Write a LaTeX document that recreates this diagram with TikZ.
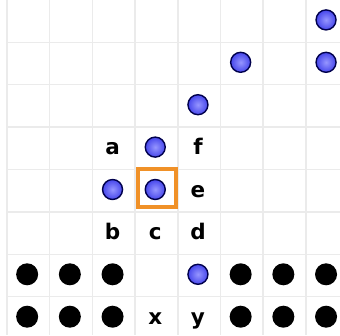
\documentclass[tikz,border=0pt]{standalone}
\usepackage{fontspec}
\setmainfont{DejaVu Sans}
\begin{document}
\begin{tikzpicture}[x=1pt,y=-1pt,
  gridline/.style={draw=black!8,line width=1.5pt},
  bluedot/.style={circle,inner sep=0pt,minimum size=20pt,draw=blue!30!black,line width=1.4pt,shading=radial,inner color={rgb,255:red,150;green,150;blue,255},outer color={rgb,255:red,70;green,70;blue,235}},
  blackdot/.style={circle,inner sep=0pt,minimum size=22pt,fill=black},
  lbl/.style={inner sep=0pt,anchor=base,font=\fontsize{21.5}{24}\selectfont\bfseries},
  hl/.style={draw={rgb,255:red,240;green,145;blue,40},line width=4pt,minimum width=38pt,minimum height=38pt,inner sep=0pt}]
\useasboundingbox (0,0) rectangle (340,335);
% grid
\foreach \k in {0,...,7} {
  \draw[gridline] ({7+42.7*\k},0) -- ({7+42.7*\k},335);
}
\foreach \k in {1,...,7} {
  \draw[gridline] (7,{-0.1+42.4*\k}) -- (340,{-0.1+42.4*\k});
}
% cell centres: column c, row r
\newcommand{\cellpos}[2]{({7+42.7*(#1-0.5)-1.2},{42.4*(#2-0.5)-1.3})}
\newcommand{\basepos}[2]{({7+42.7*(#1-0.5)-1.2},{42.4*(#2-0.5)+6.5})}
% highlight square
\node[hl] (sq) at (157,188) {};
% blue dots
\node[bluedot] (u1) at \cellpos{8}{1} {};
\node[bluedot] (u2) at \cellpos{6}{2} {};
\node[bluedot] (u3) at \cellpos{8}{2} {};
\node[bluedot] (u4) at \cellpos{5}{3} {};
\node[bluedot] (u5) at \cellpos{4}{4} {};
\node[bluedot] (u6) at \cellpos{3}{5} {};
\node[bluedot] (u7) at \cellpos{4}{5} {};
\node[bluedot] (u8) at \cellpos{5}{7} {};
% black dots
\foreach \c in {1,2,3,6,7,8} {
  \node[blackdot] (k7\c) at \cellpos{\c}{7} {};
  \node[blackdot] (k8\c) at \cellpos{\c}{8} {};
}
% labels
\node[lbl] (la) at \basepos{3}{4} {a};
\node[lbl] (lf) at \basepos{5}{4} {f};
\node[lbl] (le) at \basepos{5}{5} {e};
\node[lbl] (lb) at \basepos{3}{6} {b};
\node[lbl] (lc) at \basepos{4}{6} {c};
\node[lbl] (ld) at \basepos{5}{6} {d};
\node[lbl] (lx) at \basepos{4}{8} {x};
\node[lbl] (ly) at \basepos{5}{8} {y};
\end{tikzpicture}
\end{document}
